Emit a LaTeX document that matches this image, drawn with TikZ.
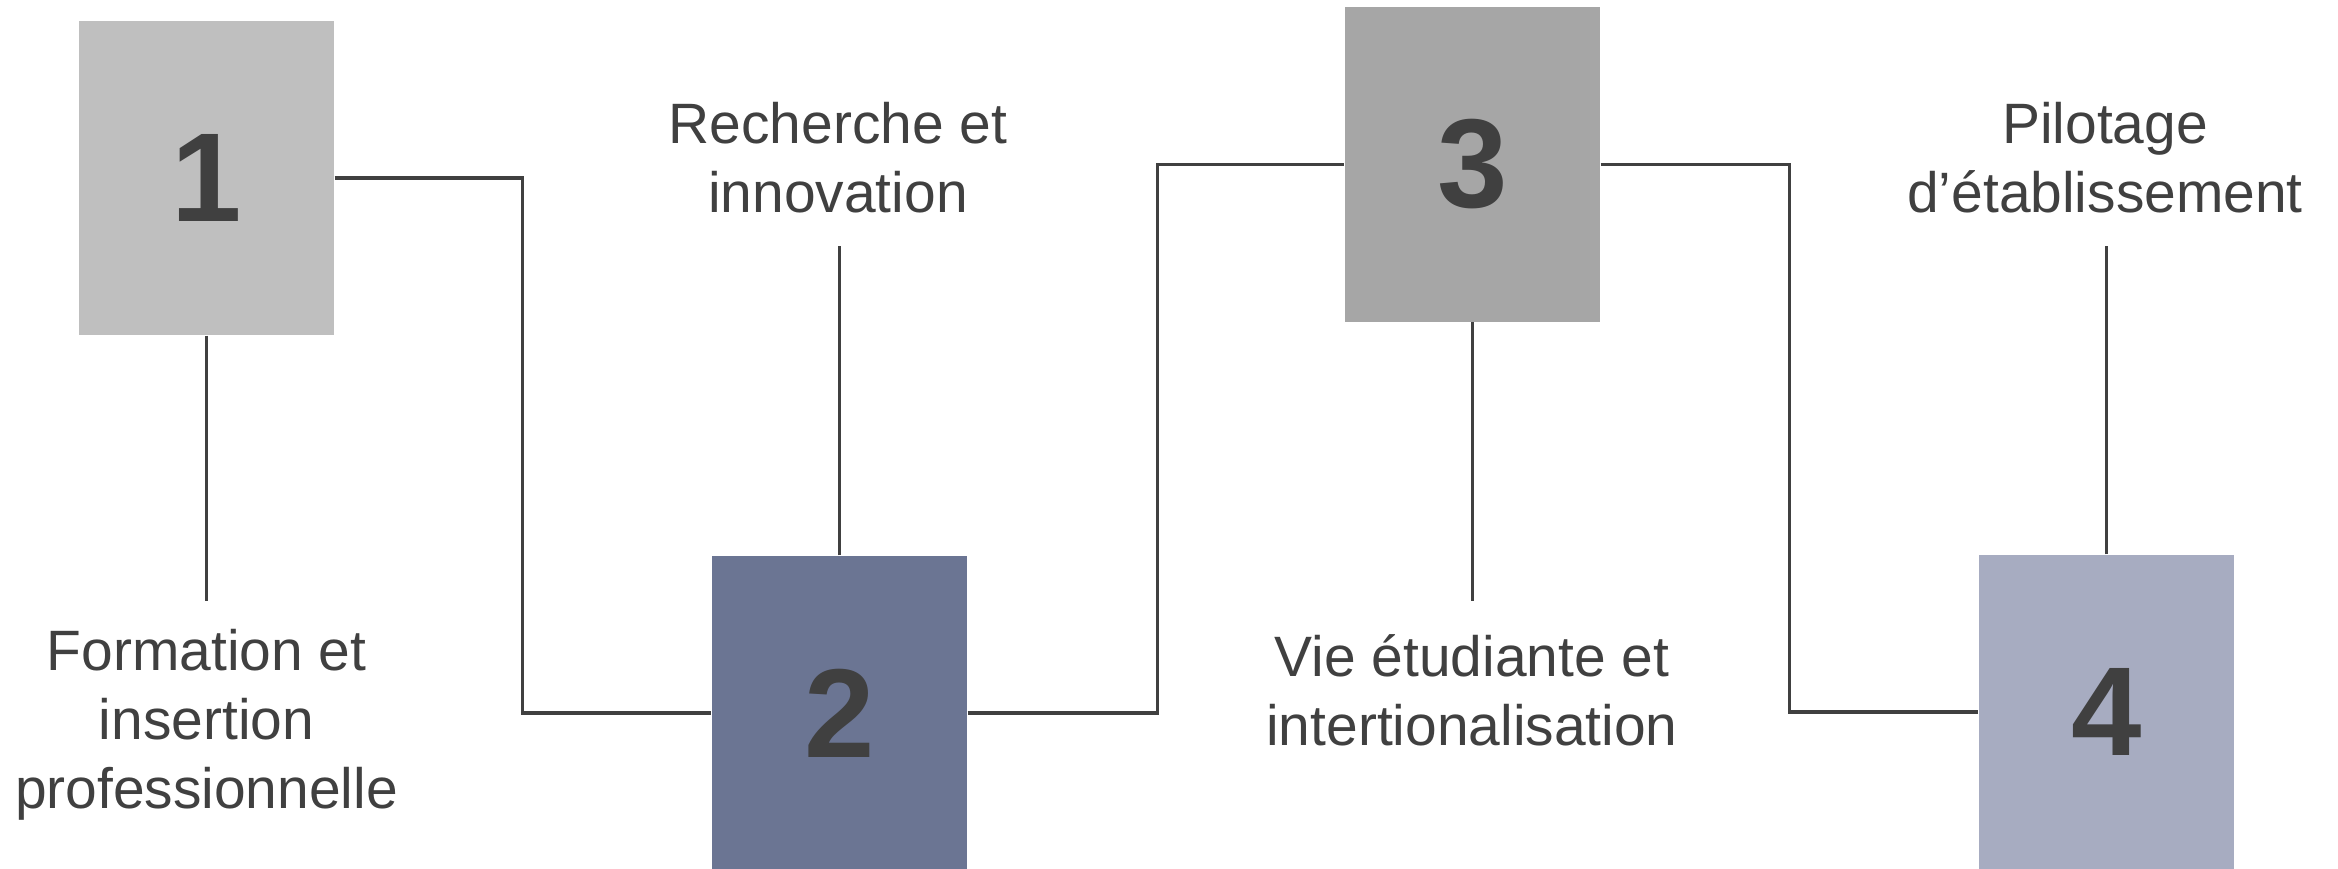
\documentclass[tikz,border=0pt]{standalone}
\usepackage{fontspec}
\setmainfont{Liberation Sans}
\usetikzlibrary{calc}
\definecolor{boxA}{HTML}{BFBFBF}
\definecolor{boxB}{HTML}{6B7593}
\definecolor{boxC}{HTML}{A6A6A6}
\definecolor{boxD}{HTML}{A7ACC1}
\definecolor{ink}{HTML}{404040}
\definecolor{txt}{HTML}{404040}
\tikzset{
  numbox/.style={rectangle, minimum width=2.55cm, minimum height=3.14cm, inner sep=0pt, draw=none,
     text=ink, font=\fontsize{36}{40}\selectfont\bfseries},
  lbl/.style={align=center, text=txt, inner sep=0pt, font=\fontsize{16.2}{19.6}\selectfont},
  conn/.style={draw=ink, line width=0.9pt}
}
\begin{document}
\begin{tikzpicture}
\useasboundingbox (0,0) rectangle (23.38,-8.69);
\node[numbox, fill=boxA] (b1) at (2.065,-1.78) {1};
\node[numbox, fill=boxB] (b2) at (8.395,-7.13) {2};
\node[numbox, fill=boxC] (b3) at (14.725,-1.645) {3};
\node[numbox, fill=boxD] (b4) at (21.065,-7.12) {4};

\node[lbl] (l1) at (2.065,-7.25) {Formation et\\insertion\\professionnelle};
\node[lbl] (l2) at (8.38,-1.58) {Recherche et\\innovation};
\node[lbl] (l3) at (14.72,-6.90) {Vie étudiante et\\intertionalisation};
\node[lbl] (l4) at (21.05,-1.58) {Pilotage\\d’établissement};

\coordinate (s1) at (2.065,-6.01);
\coordinate (s2) at (8.395,-2.46);
\coordinate (s3) at (14.725,-6.01);
\coordinate (s4) at (21.065,-2.46);

\draw[conn] (b1.south) -- (s1);
\draw[conn] (b2.north) -- (s2);
\draw[conn] (b3.south) -- (s3);
\draw[conn] (b4.north) -- (s4);

\draw[conn] (b1.east) -- ++(1.88,0) |- (b2.west);
\draw[conn] (b2.east) -- ++(1.9,0) |- (b3.west);
\draw[conn] (b3.east) -- ++(1.89,0) |- (b4.west);
\end{tikzpicture}
\end{document}
